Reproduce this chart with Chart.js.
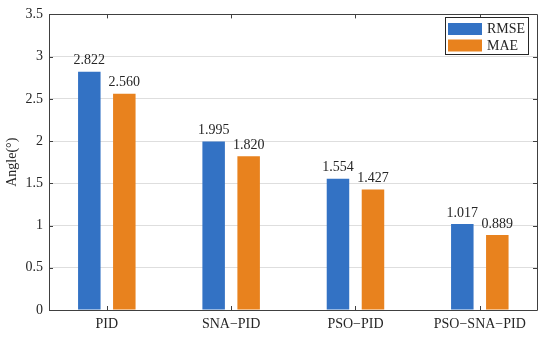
<!DOCTYPE html>
<html>
<head>
<meta charset="utf-8">
<title>RMSE / MAE</title>
<script src="https://cdn.jsdelivr.net/npm/chart.js@4/dist/chart.umd.min.js"></script>
<style>
    html, body { margin: 0; padding: 0; background: #fff; }
    #chart { display: block; }
</style>
</head>
<body>
<canvas id="chart" width="550" height="345"></canvas>
<script>
// Chart data
const categories = ['PID', 'SNA\u2212PID', 'PSO\u2212PID', 'PSO\u2212SNA\u2212PID'];
const rmseValues = [2.822, 1.995, 1.554, 1.017];
const maeValues = [2.560, 1.820, 1.427, 0.889];
const yTickValues = [0, 0.5, 1, 1.5, 2, 2.5, 3, 3.5];
const seriesNames = ['RMSE', 'MAE'];

const FONT = '"Liberation Serif", "Times New Roman", serif';
const TEXT = '#262626';
const AXIS = '#404040';
const BLUE = '#3372c4';
const ORANGE = '#e8821e';

// value labels above each bar
const valueLabels = {
    id: 'valueLabels',
    afterDatasetsDraw(chart) {
        const ctx = chart.ctx;
        ctx.save();
        ctx.font = '14px ' + FONT;
        ctx.fillStyle = TEXT;
        ctx.textAlign = 'center';
        ctx.textBaseline = 'bottom';
        chart.data.datasets.forEach((ds, di) => {
            chart.getDatasetMeta(di).data.forEach((bar, i) => {
                ctx.fillText(ds.data[i].y.toFixed(3), bar.x, bar.y - 4);
            });
        });
        ctx.restore();
    }
};

// box round the axes, inward ticks, boxed legend
const frame = {
    id: 'frame',
    afterDraw(chart) {
        const ctx = chart.ctx;
        const a = chart.chartArea;
        const xs = chart.scales.x;
        const ys = chart.scales.y;
        ctx.save();
        ctx.strokeStyle = AXIS;
        ctx.lineWidth = 1;
        ctx.beginPath();
        ctx.rect(Math.round(a.left) + 0.5, Math.round(a.top) + 0.5,
            Math.round(a.right - a.left), Math.round(a.bottom - a.top));
        const tl = 4;
        yTickValues.forEach(v => {
            const y = Math.round(ys.getPixelForValue(v)) + 0.5;
            ctx.moveTo(a.left, y); ctx.lineTo(a.left + tl, y);
            ctx.moveTo(a.right, y); ctx.lineTo(a.right - tl, y);
        });
        categories.forEach((c, i) => {
            const x = Math.round(xs.getPixelForValue(i + 1)) + 0.5;
            ctx.moveTo(x, a.bottom); ctx.lineTo(x, a.bottom - tl);
            ctx.moveTo(x, a.top); ctx.lineTo(x, a.top + tl);
        });
        ctx.stroke();

        // legend
        const lx = 445, ly = 17, lw = 83, lh = 37;
        ctx.fillStyle = '#fff';
        ctx.fillRect(lx, ly, lw, lh);
        ctx.strokeStyle = '#262626';
        ctx.strokeRect(lx + 0.5, ly + 0.5, lw, lh);
        ctx.font = '14px ' + FONT;
        ctx.textAlign = 'left';
        ctx.textBaseline = 'middle';
        chart.data.datasets.forEach((ds, i) => {
            const sy = ly + 6 + i * 16.5;
            ctx.fillStyle = ds.backgroundColor;
            ctx.fillRect(lx + 3, sy, 34, 12);
            ctx.fillStyle = TEXT;
            ctx.fillText(ds.label, lx + 42, sy + 6.5);
        });
        ctx.restore();
    }
};

const chart = new Chart(document.getElementById('chart'), {
    type: 'bar',
    data: {
        datasets: [
            {
                label: seriesNames[0],
                data: rmseValues.map((v, i) => ({ x: i + 1, y: v })),
                backgroundColor: BLUE
            },
            {
                label: seriesNames[1],
                data: maeValues.map((v, i) => ({ x: i + 1, y: v })),
                backgroundColor: ORANGE
            }
        ]
    },
    options: {
        responsive: false,
        animation: false,
        categoryPercentage: 0.563,
        barPercentage: 0.643,
        layout: { padding: { top: 8, right: 13, left: 0, bottom: 0 } },
        plugins: {
            legend: { display: false },
            tooltip: { enabled: false }
        },
        scales: {
            x: {
                type: 'linear',
                offset: false,
                min: 0.535,
                max: 4.46,
                grid: { display: false, drawTicks: false },
                border: { display: false },
                afterBuildTicks: (scale) => {
                    scale.ticks = categories.map((c, i) => ({ value: i + 1 }));
                },
                afterFit: (scale) => { scale.height = 35; },
                ticks: {
                    autoSkip: false,
                    maxRotation: 0,
                    padding: 6,
                    color: TEXT,
                    font: { family: FONT, size: 14 },
                    callback: (v) => categories[v - 1]
                }
            },
            y: {
                min: 0,
                max: 3.5,
                grid: { color: '#dedede', drawTicks: false },
                border: { display: false },
                afterBuildTicks: (scale) => {
                    scale.ticks = yTickValues.map(v => ({ value: v }));
                },
                afterFit: (scale) => { scale.width = 49; },
                ticks: {
                    padding: 6,
                    color: TEXT,
                    font: { family: FONT, size: 14 },
                    callback: (v) => String(v)
                },
                title: {
                    display: true,
                    text: 'Angle(\u00b0)',
                    color: TEXT,
                    font: { family: FONT, size: 14 },
                    padding: { top: 4, bottom: 0 }
                }
            }
        }
    },
    plugins: [valueLabels, frame]
});
</script>
</body>
</html>
